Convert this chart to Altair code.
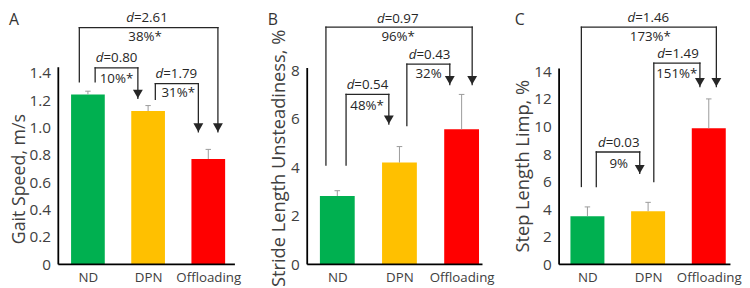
import altair as alt
import pandas as pd

FONT = "Open Sans"

groups = ["ND", "DPN", "Offloading"]
positions = [1, 2, 3]
bar_colors = ["#00B050", "#FFC000", "#FF0000"]

# Panel A: gait speed (m/s)
gait_mean = [1.24, 1.12, 0.77]
gait_sd = [0.025, 0.04, 0.07]
# Panel B: stride length unsteadiness (%)
stride_mean = [2.82, 4.20, 5.57]
stride_sd = [0.22, 0.66, 1.44]
# Panel C: step length limp (%)
limp_mean = [3.50, 3.86, 9.87]
limp_sd = [0.67, 0.64, 2.13]

# Comparison brackets (x in category positions, y in data units)
A_x1 = [0.857, 1.12, 2.12]
A_x2 = [3.16, 1.83, 2.835]
A_base = [1.333, 1.333, 1.205]
A_top = [1.729, 1.436, 1.321]
A_tip = [0.968, 1.213, 0.968]
A_d = ["=2.61", "=0.80", "=1.79"]
A_dx = [1.98, 1.475, 2.467]
A_dy = [1.801, 1.506, 1.393]
A_pct = ["38%*", "10%*", "31%*"]
A_px = [1.95, 1.475, 2.5]
A_py = [1.657, 1.357, 1.249]

B_x1 = [0.817, 1.141, 2.119]
B_x2 = [3.17, 1.829, 2.81]
B_base = [4.1, 4.1, 5.72]
B_top = [9.79, 7.01, 8.26]
B_tip = [7.42, 5.79, 7.42]
B_d = ["=0.97", "=0.54", "=0.43"]
B_dx = [1.971, 1.484, 2.483]
B_dy = [10.1, 7.38, 8.64]
B_pct = ["96%*", "48%*", "32%"]
B_px = [1.979, 1.479, 2.468]
B_py = [9.39, 6.54, 7.85]

C_x1 = [0.9, 1.146, 2.094]
C_x2 = [3.125, 1.862, 2.854]
C_base = [5.65, 5.65, 6.0]
C_top = [17.2, 8.15, 14.6]
C_tip = [12.9, 6.6, 12.9]
C_d = ["=1.46", "=0.03", "=1.49"]
C_dx = [2.003, 1.515, 2.491]
C_dy = [17.85, 8.8, 15.26]
C_pct = ["173%*", "9%", "151%*"]
C_px = [2.037, 1.515, 2.472]
C_py = [16.5, 7.3, 13.83]

A_yticks = [0, 0.2, 0.4, 0.6, 0.8, 1.0, 1.2, 1.4]
B_yticks = [0, 2, 4, 6, 8]
C_yticks = [0, 2, 4, 6, 8, 10, 12, 14]

LABEL_COLOR = "#404040"
LINE_COLOR = "#262626"
TEXT_COLOR = "#262626"
PLOT_H = 257
ANN_SIZE = 13.5
D_SHIFT = -13.2


def x_label_expr():
    expr = "''"
    for p, g in reversed(list(zip(positions, groups))):
        expr = f"datum.value == {p} ? '{g}' : {expr}"
    return expr


def panel(letter, letter_x, means, sds, x1, x2, base, top, tip, dtxt, dxs, dys,
          ptxt, pxs, pys, y_hi, y_axis_top, yticks, ylabel_expr, ytitle,
          title_x, title_y, title_size, x_lo, width, step, x_base_end):
    x_hi = x_lo + width / step
    xs = alt.Scale(domain=[x_lo, x_hi], nice=False, zero=False)
    ys = alt.Scale(domain=[0, y_hi], nice=False, zero=False)

    bars = pd.DataFrame({"group": groups, "pos": positions, "mean": means, "sd": sds})
    ann = pd.DataFrame({"x1": x1, "x2": x2, "base": base, "top": top, "tip": tip,
                        "dtxt": dtxt, "dx": dxs, "dy": dys,
                        "ptxt": ptxt, "px": pxs, "py": pys})
    frame = pd.DataFrame({"x0": [x_lo], "xe": [x_base_end], "y0": [0.0], "ye": [y_axis_top]})
    lab = pd.DataFrame({"t": [letter]})

    yaxis_kwargs = dict(values=yticks, domain=False, ticks=False, tickSize=0, grid=False,
                        labelPadding=8, labelFontSize=15.5, labelColor=LABEL_COLOR,
                        labelFont=FONT, title=ytitle, titleX=title_x, titleY=title_y,
                        titleBaseline="middle", titleAlign="center",
                        titleFontSize=title_size, titleFontWeight="normal",
                        titleColor=LABEL_COLOR, titleFont=FONT)
    if ylabel_expr:
        yaxis_kwargs["labelExpr"] = ylabel_expr
    yaxis = alt.Axis(**yaxis_kwargs)
    xaxis = alt.Axis(values=positions, labelExpr=x_label_expr(), domain=False,
                     ticks=False, tickSize=0, grid=False, title="",
                     labelPadding=6, labelFontSize=13.5, labelColor=LABEL_COLOR,
                     labelFont=FONT, labelFlush=False, labelOverlap=False)

    def X(field):
        return alt.X(field, scale=xs, axis=xaxis)

    def Y(field):
        return alt.Y(field, scale=ys, axis=yaxis)

    bar_layer = alt.Chart(bars).transform_calculate(
        lo="datum.pos - 0.28", hi="datum.pos + 0.28", zero="0"
    ).mark_rect().encode(
        x=X("lo:Q"),
        x2="hi:Q",
        y=Y("mean:Q"),
        y2="zero:Q",
        color=alt.Color("group:N", scale=alt.Scale(domain=groups, range=bar_colors), legend=None),
    )
    errb = alt.Chart(bars).transform_calculate(
        etop="datum.mean + datum.sd", clo="datum.pos - 0.045", chi="datum.pos + 0.045"
    )
    err_line = errb.mark_rule(color="#9a9a9a", strokeWidth=1).encode(
        x=X("pos:Q"), y=Y("mean:Q"), y2="etop:Q")
    err_cap = errb.mark_rule(color="#9a9a9a", strokeWidth=1).encode(
        x=X("clo:Q"), x2="chi:Q", y=Y("etop:Q"))

    a = alt.Chart(ann)
    rule_kw = dict(color=LINE_COLOR, strokeWidth=1.3, strokeCap="square")
    br_left = a.mark_rule(**rule_kw).encode(x=X("x1:Q"), y=Y("base:Q"), y2="top:Q")
    br_h = a.mark_rule(**rule_kw).encode(x=X("x1:Q"), x2="x2:Q", y=Y("top:Q"))
    br_right = a.mark_rule(**rule_kw).encode(x=X("x2:Q"), y=Y("top:Q"), y2="tip:Q")
    arrows = a.mark_point(shape="triangle-down", filled=True, size=100, opacity=1,
                          color=LINE_COLOR, yOffset=-4.3).encode(x=X("x2:Q"), y=Y("tip:Q"))
    d_it = a.mark_text(text="d", fontStyle="italic", align="right", baseline="middle",
                       dx=D_SHIFT, fontSize=ANN_SIZE, font=FONT, color=TEXT_COLOR).encode(
        x=X("dx:Q"), y=Y("dy:Q"))
    d_rest = a.mark_text(align="left", baseline="middle", dx=D_SHIFT, fontSize=ANN_SIZE,
                         font=FONT, color=TEXT_COLOR).encode(
        x=X("dx:Q"), y=Y("dy:Q"), text="dtxt:N")
    pct = a.mark_text(align="center", baseline="middle", fontSize=ANN_SIZE,
                      font=FONT, color=TEXT_COLOR).encode(
        x=X("px:Q"), y=Y("py:Q"), text="ptxt:N")

    f = alt.Chart(frame)
    axis_y = f.mark_rule(color="#000000", strokeWidth=1.8).encode(
        x=X("x0:Q"), y=Y("y0:Q"), y2="ye:Q")
    axis_x = f.mark_rule(color="#000000", strokeWidth=1.8).encode(
        x=X("x0:Q"), x2="xe:Q", y=Y("y0:Q"))

    letter_layer = alt.Chart(lab).mark_text(align="left", baseline="top", fontSize=16,
                                            font=FONT, color="#333333").encode(
        text="t:N", x=alt.value(letter_x), y=alt.value(1))

    return alt.layer(bar_layer, err_line, err_cap, br_left, br_h, br_right, arrows,
                     d_it, d_rest, pct, axis_y, axis_x, letter_layer).properties(
        width=width, height=PLOT_H)


pA = panel("A", -50, gait_mean, gait_sd, A_x1, A_x2, A_base, A_top, A_tip, A_d, A_dx, A_dy,
           A_pct, A_px, A_py, y_hi=PLOT_H / 138.8, y_axis_top=1.44, yticks=A_yticks,
           ylabel_expr="datum.value == 0 ? '0' : format(datum.value, '.1f')",
           ytitle="Gait Speed, m/s", title_x=-39, title_y=170, title_size=18,
           x_lo=0.508, width=179, step=61, x_base_end=0.508 + 179 / 61)
pB = panel("B", -40, stride_mean, stride_sd, B_x1, B_x2, B_base, B_top, B_tip, B_d, B_dx, B_dy,
           B_pct, B_px, B_py, y_hi=PLOT_H / 24.58, y_axis_top=8.1, yticks=B_yticks,
           ylabel_expr=None,
           ytitle="Stride Length Unsteadiness, %", title_x=-29, title_y=149, title_size=18.5,
           x_lo=0.516, width=181.7, step=63, x_base_end=3.336)
pC = panel("C", -45, limp_mean, limp_sd, C_x1, C_x2, C_base, C_top, C_tip, C_d, C_dx, C_dy,
           C_pct, C_px, C_py, y_hi=PLOT_H / 13.98, y_axis_top=14.2, yticks=C_yticks,
           ylabel_expr=None,
           ytitle="Step Length Limp, %", title_x=-37, title_y=157, title_size=18.5,
           x_lo=0.533, width=173.7, step=61.5, x_base_end=0.533 + 173.7 / 61.5)

chart = alt.hconcat(pA, pB, pC, spacing=73.3, bounds="flush").properties(
    padding=0
).configure(font=FONT).configure_view(stroke="transparent")

chart.save("out.html", embed_options={"renderer": "svg", "actions": False})
